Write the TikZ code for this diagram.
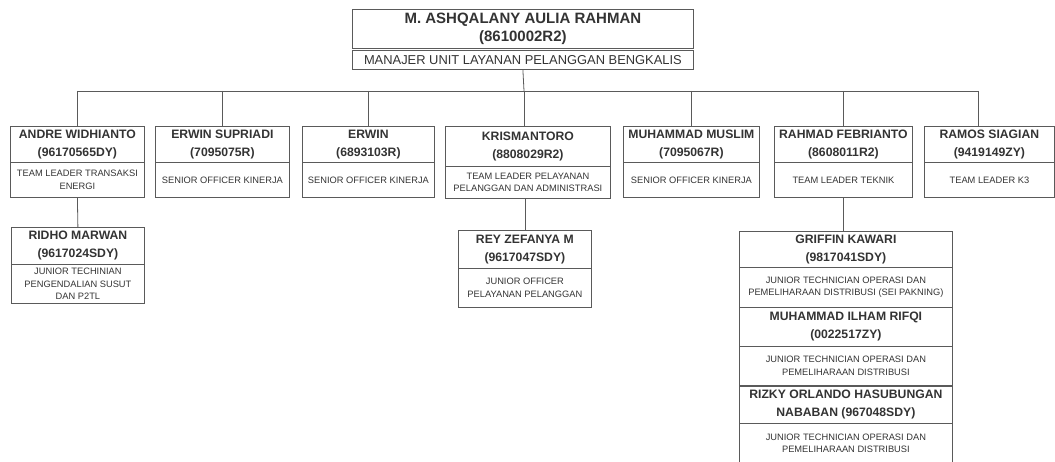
\documentclass[tikz,border=0pt]{standalone}
\usepackage{fontspec}
\setmainfont{Liberation Sans}
\usetikzlibrary{calc}
\definecolor{linec}{HTML}{5A5A5A}
\definecolor{txt}{HTML}{333333}
\tikzset{
  card/.style={draw=linec, line width=0.8pt, rectangle, anchor=north west, inner sep=0pt, align=center, text=txt},
  namebox/.style={card, font=\bfseries\fontsize{12.2}{18}\selectfont},
  rolebox/.style={card, font=\fontsize{9.3}{12.3}\selectfont},
  topname/.style={card, font=\bfseries\fontsize{15}{18.5}\selectfont},
  toprole/.style={card, font=\fontsize{12.9}{15}\selectfont},
  conn/.style={draw=linec, line width=0.8pt},
}
\begin{document}
\begin{tikzpicture}[x=1pt,y=-1pt]
\useasboundingbox (0,0) rectangle (1055,462);
\clip (0,0) rectangle (1055,462);
% top
\node[topname, minimum width=341pt, minimum height=39pt] (top) at (352,9) {M. ASHQALANY AULIA RAHMAN\\(8610002R2)};
\node[toprole, minimum width=341pt, minimum height=19pt] (topR) at (352,50) {MANAJER UNIT LAYANAN PELANGGAN BENGKALIS};
\coordinate (bus) at (524,91);
% level 1
\node[namebox, minimum width=134pt, minimum height=36pt] (andre) at (10,126) {ANDRE WIDHIANTO\\(96170565DY)};
\node[rolebox, minimum width=134pt, minimum height=35pt] (andreR) at (10,162) {TEAM LEADER TRANSAKSI\\ENERGI};
\node[namebox, minimum width=134pt, minimum height=36pt] (supri) at (155,126) {ERWIN SUPRIADI\\(7095075R)};
\node[rolebox, minimum width=134pt, minimum height=35pt] (supriR) at (155,162) {SENIOR OFFICER KINERJA};
\node[namebox, minimum width=132pt, minimum height=36pt] (erwin) at (302,126) {ERWIN\\(6893103R)};
\node[rolebox, minimum width=132pt, minimum height=35pt] (erwinR) at (302,162) {SENIOR OFFICER KINERJA};
\node[namebox, minimum width=165pt, minimum height=40pt] (kris) at (445,126) {KRISMANTORO\\(8808029R2)};
\node[rolebox, minimum width=165pt, minimum height=32pt] (krisR) at (445,166) {TEAM LEADER PELAYANAN\\PELANGGAN DAN ADMINISTRASI};
\node[namebox, minimum width=136pt, minimum height=36pt] (muslim) at (623,126) {MUHAMMAD MUSLIM\\(7095067R)};
\node[rolebox, minimum width=136pt, minimum height=35pt] (muslimR) at (623,162) {SENIOR OFFICER KINERJA};
\node[namebox, minimum width=138pt, minimum height=36pt] (rahmad) at (774,126) {RAHMAD FEBRIANTO\\(8608011R2)};
\node[rolebox, minimum width=138pt, minimum height=35pt] (rahmadR) at (774,162) {TEAM LEADER TEKNIK};
\node[namebox, minimum width=130pt, minimum height=36pt] (ramos) at (924,126) {RAMOS SIAGIAN\\(9419149ZY)};
\node[rolebox, minimum width=130pt, minimum height=35pt] (ramosR) at (924,162) {TEAM LEADER K3};
% level 2
\node[namebox, minimum width=133pt, minimum height=37pt] (ridho) at (11,227) {RIDHO MARWAN\\(9617024SDY)};
\node[rolebox, minimum width=133pt, minimum height=39pt] (ridhoR) at (11,264) {JUNIOR TECHINIAN\\PENGENDALIAN SUSUT\\DAN P2TL};
\node[namebox, minimum width=133pt, minimum height=38pt] (rey) at (458,230) {REY ZEFANYA M\\(9617047SDY)};
\node[rolebox, minimum width=133pt, minimum height=39pt] (reyR) at (458,268) {JUNIOR OFFICER\\PELAYANAN PELANGGAN};
\node[namebox, minimum width=213pt, minimum height=36pt] (griffin) at (739,231) {GRIFFIN KAWARI\\(9817041SDY)};
\node[rolebox, minimum width=213pt, minimum height=40pt] (griffinR) at (739,267) {JUNIOR TECHNICIAN OPERASI DAN\\PEMELIHARAAN DISTRIBUSI (SEI PAKNING)};
\node[namebox, minimum width=213pt, minimum height=39pt] (ilham) at (739,307) {MUHAMMAD ILHAM RIFQI\\(0022517ZY)};
\node[rolebox, minimum width=213pt, minimum height=39pt] (ilhamR) at (739,346) {JUNIOR TECHNICIAN OPERASI DAN\\PEMELIHARAAN DISTRIBUSI};
\node[namebox, minimum width=213pt, minimum height=37pt] (rizky) at (739,386) {RIZKY ORLANDO HASUBUNGAN\\NABABAN (967048SDY)};
\node[rolebox, minimum width=213pt, minimum height=40pt] (rizkyR) at (739,423) {JUNIOR TECHNICIAN OPERASI DAN\\PEMELIHARAAN DISTRIBUSI};
% connectors
\draw[conn] (topR.south) -- (bus);
\draw[conn] (andre.north |- bus) -- ($(ramos.north west |- bus)+(54,0)$);
\draw[conn] (andre.north |- bus) -- (andre.north);
\draw[conn] (supri.north |- bus) -- (supri.north);
\draw[conn] (erwin.north |- bus) -- (erwin.north);
\draw[conn] (bus) -- (kris.north -| bus);
\draw[conn] (muslim.north |- bus) -- (muslim.north);
\draw[conn] (rahmad.north |- bus) -- (rahmad.north);
\draw[conn] ($(ramos.north west |- bus)+(54,0)$) -- ($(ramos.north west)+(54,0)$);
\draw[conn] (andreR.south) -- (ridho.north);
\draw[conn] (krisR.south -| rey.north) -- (rey.north);
\draw[conn] (rahmadR.south) -- (rahmadR.south |- griffin.north);
\end{tikzpicture}
\end{document}
